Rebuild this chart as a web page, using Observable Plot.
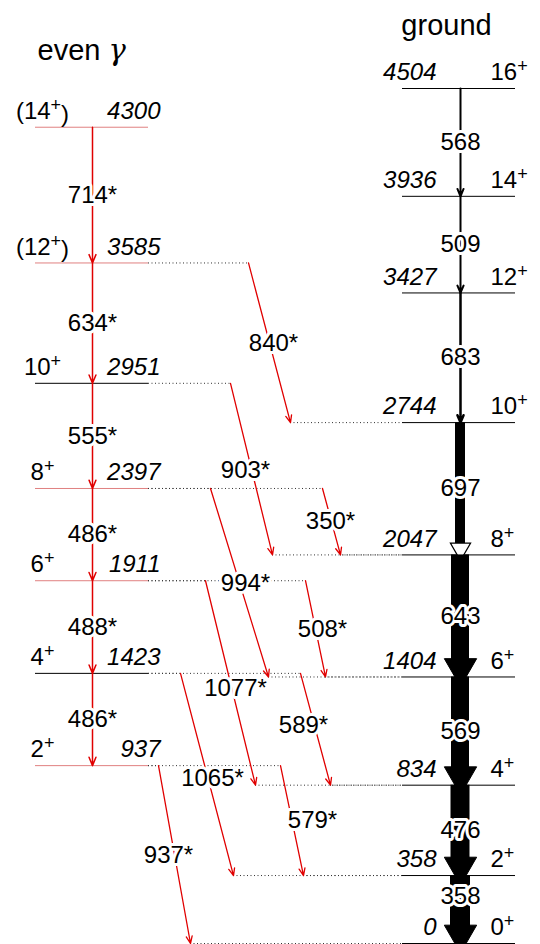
<!DOCTYPE html>
<html><head><meta charset="utf-8">
<script src="https://cdn.jsdelivr.net/npm/d3@7"></script>
<script src="https://cdn.jsdelivr.net/npm/@observablehq/plot@0.6"></script>
<style>body{margin:0;background:#fff}</style>
</head><body><div id="c"></div>
<script>
// ---- data ----
const gammaLevels = [4300, 3585, 2951, 2397, 1911, 1423, 937];
const gammaSpins = ["(14+)", "(12+)", "10+", "8+", "6+", "4+", "2+"];
const gammaLevelRed = [true, true, false, true, true, false, true];
const groundLevels = [4504, 3936, 3427, 2744, 2047, 1404, 834, 358, 0];
const groundSpins = ["16+", "14+", "12+", "10+", "8+", "6+", "4+", "2+", "0+"];
const gammaBandTrans = ["714*", "634*", "555*", "486*", "488*", "486*"];
const groundTrans = ["568", "509", "683", "697", "643", "569", "476", "358"];
const groundWidth = [2, 2, 2.5, 10, 18, 18, 19, 20];
const interFrom = [3585, 2951, 2397, 2397, 1911, 1911, 1423, 1423, 937, 937];
const interTo = [2744, 2047, 2047, 1404, 1404, 834, 834, 358, 358, 0];
const interLabel = ["840*", "903*", "350*", "994*", "508*", "1077*", "589*", "1065*", "579*", "937*"];

// ---- layout (pixel x positions) ----
const gx1 = 35, gx2 = 148, rx1 = 402, rx2 = 515, gArrowX = 92, rArrowX = 460;
const interX1 = [248, 230, 322, 210, 305, 205, 300, 180, 280, 158];
const interX2 = [290, 272, 340, 268, 325, 255, 330, 233, 303, 190];
const interLx = [273, 245, 330, 245, 322, 235, 303, 212, 312, 168];
const interLy = [343, 470, 521, 583, 629, 688, 725, 778, 820, 855];
const yPix = d3.scaleLinear().domain([0, 4504]).range([943, 88]);

const F = "Liberation Sans, Arial, sans-serif";
const FS = 24;
const gL = gammaLevels.map((e, i) => ({e, spin: gammaSpins[i], red: gammaLevelRed[i]}));
const rL = groundLevels.map((e, i) => ({e, spin: groundSpins[i]}));
const gT = gammaBandTrans.map((l, i) => ({l, from: gammaLevels[i], to: gammaLevels[i + 1]}));
const rT = groundTrans.map((l, i) => ({l, from: groundLevels[i], to: groundLevels[i + 1], w: groundWidth[i]}));
const iT = interLabel.map((l, i) => ({l, from: interFrom[i], to: interTo[i], x1: interX1[i], x2: interX2[i],
  lx: interLx[i], ly: yPix.invert(interLy[i])}));
const thin = rT.filter(d => d.w < 5);
const mid = rT.filter(d => d.w >= 5 && d.w < 12);
const thick = rT.filter(d => d.w >= 12);
const k = 855 / 4504;

const chart = Plot.plot({
  width: 540, height: 944, margin: 0,
  x: {domain: [0, 540], range: [0, 540], axis: null},
  y: {domain: [0, 4504], range: [943, 88], axis: null},
  style: {fontFamily: F, background: "#fff"},
  marks: [
    Plot.ruleY(iT, {y: "from", x1: gx2, x2: "x1", stroke: "#333", strokeDasharray: "1,2.5", strokeWidth: 1}),
    Plot.ruleY(iT, {y: "to", x1: "x2", x2: rx1, stroke: "#333", strokeDasharray: "1,2.5", strokeWidth: 1}),
    Plot.ruleY(gL, {y: "e", x1: gx1, x2: gx2, stroke: d => d.red ? "#e08080" : "#000", strokeWidth: 1}),
    Plot.ruleY(rL, {y: "e", x1: rx1, x2: rx2, stroke: "#000", strokeWidth: 1}),
    Plot.arrow(gT, {x: gArrowX, y1: "from", y2: "to", stroke: "#e00000", strokeWidth: 1.5, headLength: 9, headAngle: 45}),
    Plot.arrow(iT, {x1: "x1", y1: "from", x2: "x2", y2: "to", stroke: "#e00000", strokeWidth: 1.3, headLength: 9, headAngle: 45}),
    Plot.arrow(thin, {x: rArrowX, y1: "from", y2: "to", stroke: "#000", strokeWidth: d => d.w, headLength: 12, headAngle: 45}),
    Plot.rect(mid, {x1: d => rArrowX - d.w / 2, x2: d => rArrowX + d.w / 2, y1: "from", y2: d => d.to + 10 / k, fill: "#000"}),
    Plot.dot(mid, {x: rArrowX, y: "to", dy: -6, r: 7.5, symbol: "triangle", rotate: 180, fill: "#fff", stroke: "#000", strokeWidth: 1.2}),
    Plot.rect(thick, {x1: d => rArrowX - d.w / 2, x2: d => rArrowX + d.w / 2, y1: "from", y2: d => d.to + 14 / k, fill: "#000"}),
    Plot.dot(thick, {x: rArrowX, y: "to", dy: -9, r: 12, symbol: "triangle", rotate: 180, fill: "#000", stroke: "#000", strokeWidth: 1}),
    Plot.text(gT, {x: gArrowX, y: d => (d.from + d.to) / 2, text: "l", fontSize: FS, fill: "#000", stroke: "#fff", strokeWidth: 6}),
    Plot.text(rT, {x: rArrowX, y: d => (d.from + d.to) / 2 + (d.l === "358" ? 70 : 0), text: "l", fontSize: FS, fill: "#000", stroke: "#fff", strokeWidth: 6}),
    Plot.text(iT, {x: "lx", y: "ly", text: "l", fontSize: FS, fill: "#000", stroke: "#fff", strokeWidth: 6}),
    Plot.text(gL, {x: 42, y: "e", dy: -16, text: "spin", textAnchor: "middle", fontSize: FS, className: "spin"}),
    Plot.text(gL, {x: 160, y: "e", dy: -16, text: d => String(d.e), textAnchor: "end", fontSize: FS, fontStyle: "italic"}),
    Plot.text(rL, {x: 436, y: "e", dy: -16, text: d => String(d.e), textAnchor: "end", fontSize: FS, fontStyle: "italic"}),
    Plot.text(rL, {x: 490, y: "e", dy: -16, text: "spin", textAnchor: "start", fontSize: FS, className: "spin"}),
    Plot.text(["even γ"], {x: 37, y: 4504, dy: -38, text: d => d, textAnchor: "start", fontSize: 29, className: "ttl"}),
    Plot.text(["ground"], {x: 446, y: 4504, dy: -63, text: d => d, fontSize: 29})
  ]
});
d3.select(chart).selectAll(".spin text").each(function() {
  const t = this.textContent;
  const m = t.match(/^(\(?)(\d+)\+(\)?)$/);
  if (!m) return;
  const s = d3.select(this).text(null);
  s.append("tspan").text(m[1] + m[2]);
  s.append("tspan").attr("dy", "-0.45em").attr("font-size", "0.75em").text("+");
  if (m[3]) s.append("tspan").attr("dy", "0.45em").text(m[3]);
});
d3.select(chart).selectAll(".ttl text").each(function() {
  const s = d3.select(this).text(null);
  s.append("tspan").text("even ");
  s.append("tspan").attr("font-style", "italic").attr("font-family", "DejaVu Serif, serif").text("γ");
});
document.getElementById("c").appendChild(chart);
</script></body></html>
